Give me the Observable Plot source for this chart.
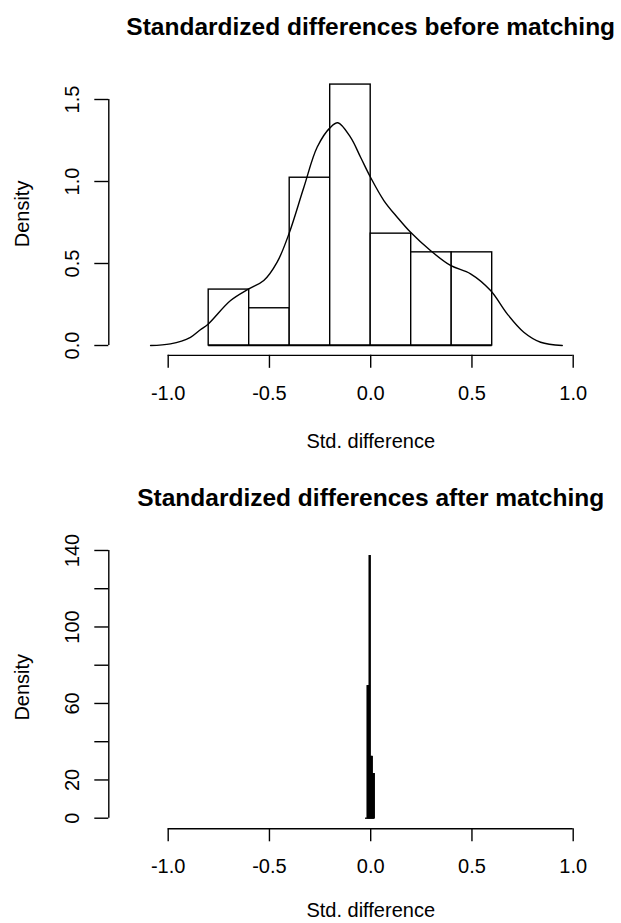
<!DOCTYPE html>
<html>
<head>
<meta charset="utf-8">
<script src="https://cdn.jsdelivr.net/npm/d3@7"></script>
<script src="https://cdn.jsdelivr.net/npm/@observablehq/plot@0.6"></script>
<style>
  html, body { margin: 0; padding: 0; background: #ffffff; }
  #chart svg { display: block; }
</style>
</head>
<body>
<div id="chart"></div>
<script>
// ---- Data ----
const xTicks = [-1, -0.5, 0, 0.5, 1];

// Panel 1: before matching (histogram, bin width 0.2)
const beforeTitle = "Standardized differences before matching";
const beforeBinStart = [-0.8, -0.6, -0.4, -0.2, 0.0, 0.2, 0.4];
const beforeBinEnd   = [-0.6, -0.4, -0.2, 0.0, 0.2, 0.4, 0.6];
const beforeDensity  = [0.341, 0.227, 1.023, 1.591, 0.682, 0.568, 0.568];
// kernel density curve
const kdeX = [-1.087, -0.989, -0.890, -0.841, -0.803, -0.692, -0.602, -0.528, -0.462, -0.404, -0.330, -0.264, -0.199, -0.162, -0.100, -0.050, -0.001, 0.065, 0.131, 0.197, 0.295, 0.394, 0.493, 0.592, 0.674, 0.756, 0.839, 0.946];
const kdeY = [0.000, 0.010, 0.050, 0.096, 0.130, 0.274, 0.345, 0.396, 0.508, 0.680, 0.965, 1.210, 1.330, 1.358, 1.270, 1.148, 1.026, 0.884, 0.782, 0.690, 0.579, 0.488, 0.437, 0.335, 0.193, 0.081, 0.020, 0.000];
const beforeYTicks = [0, 0.5, 1, 1.5];
const beforeYLabels = [0, 0.5, 1, 1.5];

// Panel 2: after matching (very narrow histogram bins)
const afterTitle = "Standardized differences after matching";
const afterBinStart = [-0.025, -0.020, -0.015, -0.010, -0.005, 0.000, 0.005, 0.010, 0.015];
const afterBinEnd   = [-0.020, -0.015, -0.010, -0.005, 0.000, 0.005, 0.010, 0.015, 0.020];
const afterDensity  = [0, 0, 69, 69, 137, 32, 32, 23, 23];
const afterYTicks = [0, 20, 40, 60, 80, 100, 120, 140];
const afterYLabels = [0, 20, 60, 100, 140];

const xLabel = "Std. difference";
const yLabel = "Density";

// ---- Layout (R-style plot regions) ----
const W = 621;
const xUsr = [-1.2933, 1.2933];
const xRange = [108.3, 632.1];

function panel({title, binStart, binEnd, density, curveX, curveY, yTicks, yLabels, fmt, yUsr, yRange, height, xLabelDy, titleY}) {
  const bins = binStart.map((s, i) => ({x1: s, x2: binEnd[i], d: density[i]}));
  const curve = curveX ? curveX.map((x, i) => ({x, y: curveY[i]})) : [];
  const xMid = (xUsr[0] + xUsr[1]) / 2;
  const yMid = (yUsr[0] + yUsr[1]) / 2;
  const marginLeft = xRange[0];
  const marginTop = yRange[1];
  const marginBottom = height - yRange[0];
  const lw = 1.4;
  const txt = {textAnchor: "middle", lineAnchor: "middle", fill: "#000000"};
  return Plot.plot({
    width: W,
    height,
    marginLeft,
    marginRight: 0,
    marginTop,
    marginBottom,
    style: {fontFamily: "'Liberation Sans', Arial, sans-serif", fontSize: "20px", background: "#ffffff", color: "#000000"},
    x: {domain: xUsr, range: xRange},
    y: {domain: yUsr, range: yRange},
    marks: [
      // histogram bars
      Plot.rect(bins.filter(b => b.d > 0), {x1: "x1", x2: "x2", y1: 0, y2: "d", fill: "#ffffff", stroke: "#000000", strokeWidth: lw, inset: 0}),
      Plot.ruleY(bins, {y: 0, x1: "x1", x2: "x2", stroke: "#000000", strokeWidth: lw}),
      // density curve
      Plot.line(curve, {x: "x", y: "y", curve: "catmull-rom", stroke: "#000000", strokeWidth: lw}),
      // axes
      Plot.ruleY([yUsr[0]], {x1: xTicks[0], x2: xTicks[xTicks.length - 1], stroke: "#000000", strokeWidth: lw}),
      Plot.axisX({ticks: xTicks, tickSize: 13, tickPadding: 17, tickFormat: d => d.toFixed(1), fontSize: 20, strokeWidth: lw, label: null}),
      Plot.ruleX([xUsr[0]], {y1: yTicks[0], y2: yTicks[yTicks.length - 1], stroke: "#000000", strokeWidth: lw}),
      Plot.axisY({ticks: yTicks, tickSize: 14, tickFormat: () => "", strokeWidth: lw, label: null}),
      Plot.text(yLabels, {...txt, y: d => d, frameAnchor: "left", dx: -36.6, rotate: -90, text: fmt, fontSize: 20}),
      // labels
      Plot.text([xLabel], {...txt, x: xMid, frameAnchor: "bottom", dy: xLabelDy, text: d => d, fontSize: 20}),
      Plot.text([yLabel], {...txt, y: yMid, frameAnchor: "left", dx: 22 - marginLeft, rotate: -90, text: d => d, fontSize: 20}),
      Plot.text([title], {...txt, x: xMid, frameAnchor: "top", dy: titleY - marginTop, text: d => d, fontSize: 24.5, fontWeight: "bold"})
    ]
  });
}

const panelBefore = panel({
  title: beforeTitle,
  binStart: beforeBinStart, binEnd: beforeBinEnd, density: beforeDensity,
  curveX: kdeX, curveY: kdeY,
  yTicks: beforeYTicks, yLabels: beforeYLabels, fmt: d => d.toFixed(1),
  yUsr: [-0.06, 1.664], yRange: [354.84, 72.1], height: 474, xLabelDy: 86, titleY: 27
});
const panelAfter = panel({
  title: afterTitle,
  binStart: afterBinStart, binEnd: afterBinEnd, density: afterDensity,
  curveX: null, curveY: null,
  yTicks: afterYTicks, yLabels: afterYLabels, fmt: d => String(d),
  yUsr: [-5.54, 142.5], yRange: [354.3, 71.2], height: 449, xLabelDy: 82, titleY: 24
});
document.getElementById("chart").append(panelBefore, panelAfter);
</script>
</body>
</html>
